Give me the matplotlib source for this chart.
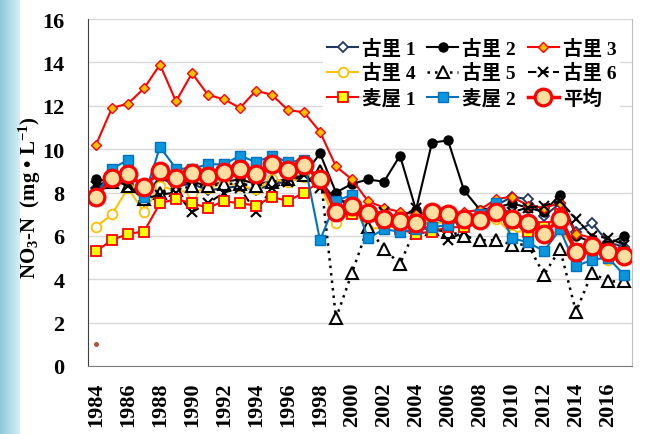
import numpy as np
import matplotlib
matplotlib.use("Agg")
import matplotlib.pyplot as plt
from matplotlib.font_manager import FontProperties
from matplotlib.colors import LinearSegmentedColormap

plt.rcParams["mathtext.fontset"] = "custom"
plt.rcParams["mathtext.bf"] = "Liberation Serif:bold"
plt.rcParams["mathtext.rm"] = "Liberation Serif:bold"
plt.rcParams["mathtext.default"] = "bf"

# ---------------- data ----------------
years = list(range(1984, 2018))
furusato1 = [8.2, 8.6, 8.5, 7.6, 8.7, 8.3, 8.4, 8.1, 8.2, 8.3, 8.1, 8.4, 8.5, 8.7, 8.6,
             7.6, 7.6, 6.8, 6.9, 6.7, 6.9, 6.8, 6.6, 6.7, 6.9, 7.4, 7.8, 7.7, 6.9, 7.5,
             6.2, 6.6, 5.7, 5.5]
furusato2 = [8.6, 8.5, 8.4, 7.8, 8.7, 8.4, 8.5, 8.3, 8.5, 8.6, 8.4, 8.5, 8.6, 8.8, 9.8,
             8.0, 8.4, 8.6, 8.5, 9.7, 7.2, 10.3, 10.4, 8.1, 7.2, 7.3, 7.5, 7.3, 7.1, 7.9,
             6.0, 5.7, 5.6, 6.0]
furusato3 = [10.2, 11.9, 12.1, 12.8, 13.9, 12.2, 13.5, 12.5, 12.3, 11.9, 12.7, 12.5, 11.8, 11.7, 10.8,
             9.2, 8.6, 7.6, 7.3, 7.1, 7.0, 7.0, 7.0, 7.1, 7.2, 7.7, 7.8, 7.4, 7.3, 7.5,
             6.1, 5.9, 5.4, 5.3]
furusato4 = [6.4, 7.0, 8.2, 7.1, 8.3, 8.1, 8.0, 8.2, 8.45, 8.3, 8.15, 8.6, 8.5, 8.7, 8.4,
             6.6, 7.3, 6.3, 6.4, 6.4, 6.5, 6.6, 6.6, 6.6, 6.7, 6.8, 6.1, 6.3, 5.9, 6.3,
             5.4, 5.4, 4.9, 4.9]
furusato5 = [8.2, 8.5, 8.3, 7.7, 8.0, 8.1, 8.3, 8.3, 8.4, 8.4, 8.3, 8.5, 8.6, 8.8, 9.0,
             2.2, 4.3, 6.4, 5.4, 4.7, 6.4, 6.3, 6.2, 6.0, 5.8, 5.8, 5.6, 5.6, 4.2, 5.4,
             2.5, 4.3, 3.9, 3.9]
furusato6 = [8.3, 8.6, 8.3, 7.7, 7.9, 8.0, 7.1, 7.5, 8.0, 8.2, 7.1, 8.2, 8.5, 8.8, 8.2,
             7.8, 7.3, 7.0, 7.1, 6.8, 7.3, 6.6, 5.8, 6.2, 6.9, 7.2, 7.1, 7.3, 7.4, 7.6,
             6.8, 6.0, 5.9, 5.6]
mugiya1 = [5.3, 5.8, 6.1, 6.2, 7.5, 7.7, 7.5, 7.3, 7.6, 7.5, 7.4, 7.8, 7.6, 8.0, 8.5,
           7.4, 7.0, 6.9, 6.6, 6.3, 6.1, 6.2, 6.4, 6.4, 6.8, 7.2, 6.6, 6.2, 6.4, 7.0,
           5.4, 5.6, 5.2, 5.2]
mugiya2 = [7.8, 9.1, 9.5, 7.8, 10.1, 9.1, 9.1, 9.3, 9.3, 9.7, 9.4, 9.7, 9.4, 9.5, 5.8,
           7.6, 7.9, 5.9, 6.3, 6.2, 6.3, 6.4, 6.5, 6.8, 7.0, 7.5, 5.9, 5.7, 5.3, 6.3,
           4.6, 4.9, 5.0, 4.2]
average = [7.8, 8.65, 8.85, 8.25, 9.0, 8.65, 8.9, 8.75, 8.95, 9.1, 8.85, 9.3, 9.05, 9.25, 8.6,
           7.1, 7.4, 7.05, 6.8, 6.7, 6.6, 7.1, 7.0, 6.8, 6.75, 7.1, 6.8, 6.6, 6.1, 6.8,
           5.25, 5.55, 5.25, 5.05]
stray_year = [1984]
stray_value = [1.0]

labels = ["古里 1", "古里 2", "古里 3", "古里 4", "古里 5", "古里 6", "麦屋 1", "麦屋 2", "平均"]
yticks = list(range(0, 17, 2))
xticks = list(range(1984, 2017, 2))

# ---------------- figure ----------------
W, H = 652, 435
fig = plt.figure(figsize=(W / 100, H / 100), dpi=100)
fig.patch.set_facecolor("white")

# light-blue slide gradient at left edge
bg = fig.add_axes([0, 0, 20 / W, 1])
grad = np.linspace(0, 1, 64).reshape(1, -1)
cm = LinearSegmentedColormap.from_list("g", ["#8CC9DC", "#D6EFF5"])
bg.imshow(grad, aspect="auto", cmap=cm, extent=[0, 1, 0, 1])
bg.axis("off")

ax = fig.add_axes([88 / W, (H - 367) / H, (632 - 88) / W, (367 - 20) / H])
ax.set_xlim(1983.5, 2017.5)
ax.set_ylim(0, 16)

serif_bold = {"family": ["Liberation Serif", "Noto Sans CJK JP"], "weight": "bold"}

ax.set_yticks(yticks)
ax.set_yticklabels([str(v) for v in yticks], fontdict=dict(serif_bold, size=16))
ax.set_xticks(xticks)
ax.set_xticklabels([str(v) for v in xticks], fontdict=dict(serif_bold, size=16), rotation=90)
ax.tick_params(axis="y", length=0, pad=17)
ax.tick_params(axis="x", length=0, pad=11)

ax.grid(axis="y", color="#D9D9D9", linewidth=1.0)
ax.set_axisbelow(True)
ax.spines["top"].set_visible(False)
ax.spines["left"].set_color("#404040")
ax.spines["bottom"].set_color("#808080")
ax.spines["right"].set_color("#BFBFBF")

h = []
h += ax.plot(years, furusato1, color="#1F3864", lw=1.5, marker="D", ms=5.5, mfc="white",
             mec="#1F3864", mew=1.3)
h += ax.plot(years, furusato2, color="black", lw=1.5, marker="o", ms=6.5, mfc="black", mec="black")
h += ax.plot(years, furusato3, color="#FF0000", lw=1.5, marker="D", ms=5.5, mfc="#FFC000",
             mec="#FF0000", mew=1.0)
h += ax.plot(years, furusato4, color="#FFC000", lw=1.5, marker="o", ms=7, mfc="white",
             mec="#FFC000", mew=1.3)
h += ax.plot(years, furusato5, color="black", lw=1.8, ls=(0, (1, 2)), marker="^", ms=8,
             mfc="white", mec="black", mew=1.5)
h += ax.plot(years, furusato6, color="black", lw=1.5, ls=(0, (4, 2)), marker="x", ms=7,
             mec="black", mew=1.5)
h += ax.plot(years, mugiya1, color="#FF0000", lw=1.5, marker="s", ms=6.5, mfc="#FFFF00",
             mec="#FF0000", mew=1.3)
h += ax.plot(years, mugiya2, color="#0070C0", lw=1.5, marker="s", ms=6.5, mfc="#0A96DC",
             mec="#0070C0", mew=1.0)
h += ax.plot(years, average, color="#FF0000", lw=2.5, marker="o", ms=12, mfc="#FFDFA0",
             mec="#FF0000", mew=2.3)
ax.plot(stray_year, stray_value, ls="none", marker="o", ms=2.5, color="#C0504D", mec="#A0522D")

# legend: Excel row-major ordering -> matplotlib column-major
order = [0, 3, 6, 1, 4, 7, 2, 5, 8]
leg = ax.legend([h[i] for i in order], [labels[i] for i in order], ncol=3,
                loc="upper right", bbox_to_anchor=(630 / W, 1 - 26 / H),
                bbox_transform=fig.transFigure,
                prop=FontProperties(family=["Liberation Serif", "Noto Sans CJK JP"],
                                    weight="bold", size=14),
                frameon=True, fancybox=False, handlelength=1.6, handletextpad=0.2,
                columnspacing=0.6, labelspacing=0.3, borderpad=0.2)
leg.get_frame().set_facecolor("white")
leg.get_frame().set_edgecolor("none")
leg.get_frame().set_alpha(1)

fig.text(30 / W, (H - 198) / H,
         r"NO$_3$-N  (mg • L$^{-1}$)",
         rotation=90, ha="center", va="center",
         fontdict=dict(family="Liberation Serif", weight="bold", size=15))

fig.savefig("out.png", dpi=100, facecolor=fig.get_facecolor())
